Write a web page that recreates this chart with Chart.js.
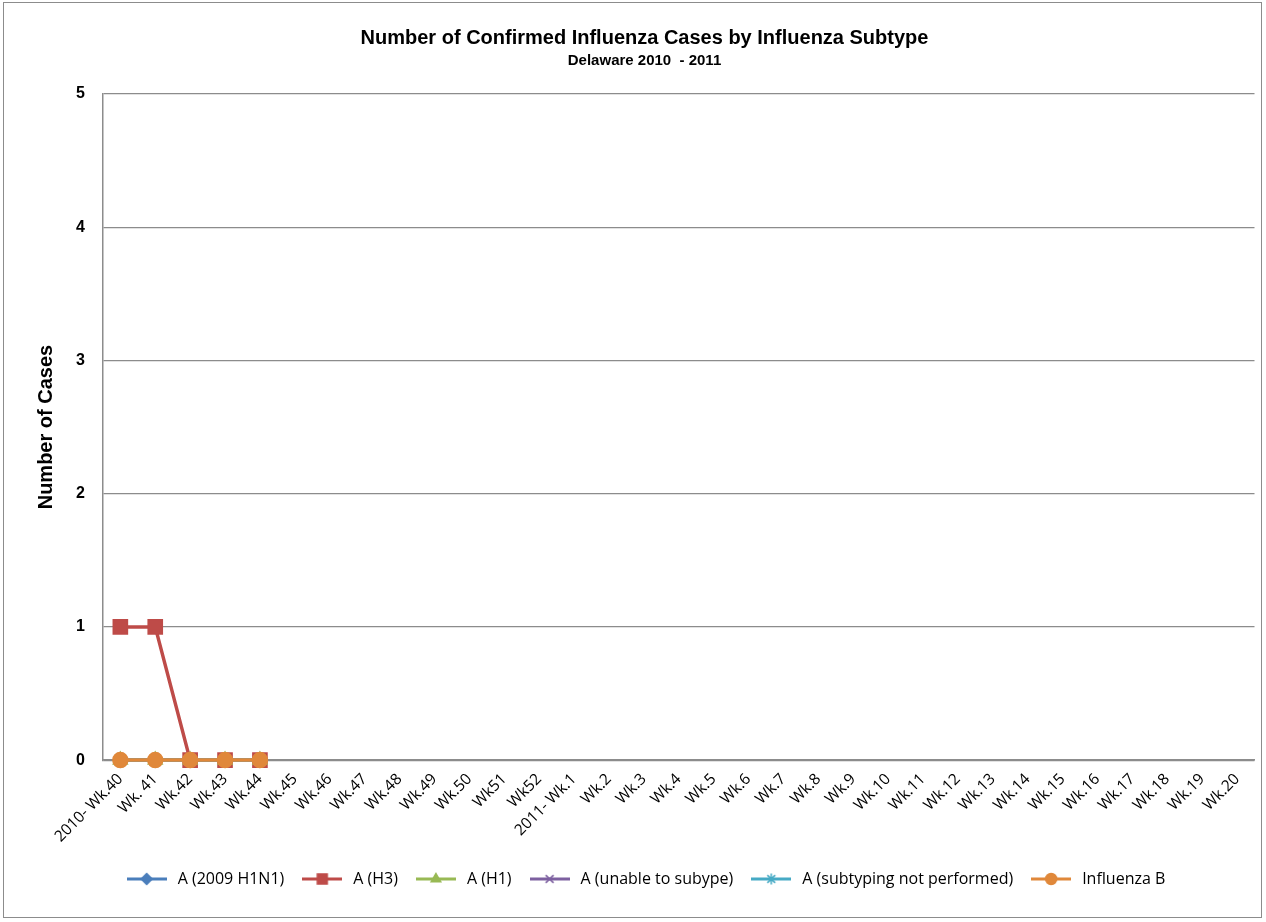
<!DOCTYPE html>
<html>
<head>
<meta charset="utf-8">
<script src="https://cdn.jsdelivr.net/npm/chart.js@4/dist/chart.umd.min.js"></script>
<style>
  html, body { margin: 0; padding: 0; background: #fff; }
  #frame { position: absolute; left: 3px; top: 2px; width: 1259px; height: 916px; border: 1px solid #8c8c8c; box-sizing: border-box; }
  #wrap { position: absolute; left: 0; top: 0; width: 1266px; height: 922px; }
</style>
</head>
<body>
<div id="frame"></div>
<div id="wrap"><canvas id="chart"></canvas></div>
<script>
// Semanas da temporada
const weeks = [
  '2010- Wk.40', 'Wk. 41', 'Wk.42', 'Wk.43', 'Wk.44', 'Wk.45', 'Wk.46', 'Wk.47', 'Wk.48', 'Wk.49',
  'Wk.50', 'Wk51', 'Wk52', '2011- Wk.1', 'Wk.2', 'Wk.3', 'Wk.4', 'Wk.5', 'Wk.6', 'Wk.7',
  'Wk.8', 'Wk.9', 'Wk.10', 'Wk.11', 'Wk.12', 'Wk.13', 'Wk.14', 'Wk.15', 'Wk.16', 'Wk.17',
  'Wk.18', 'Wk.19', 'Wk.20'
];

// Casos por subtipo (só as 5 primeiras semanas têm dados)
const h1n1_2009 = [0, 0, 0, 0, 0];
const h3 = [1, 1, 0, 0, 0];
const h1 = [0, 0, 0, 0, 0];
const unableToSubtype = [0, 0, 0, 0, 0];
const notPerformed = [0, 0, 0, 0, 0];
const influenzaB = [0, 0, 0, 0, 0];

const yTicks = [0, 1, 2, 3, 4, 5];

const series = [
  { label: 'A (2009 H1N1)', data: h1n1_2009, color: '#4a7ebb', style: 'rectRot', radius: 7 },
  { label: 'A (H3)', data: h3, color: '#be4b48', style: 'rect', radius: 10 },
  { label: 'A (H1)', data: h1, color: '#98b954', style: 'triangle', radius: 8 },
  { label: 'A (unable to subype)', data: unableToSubtype, color: '#7d60a0', style: 'crossRot', radius: 7 },
  { label: 'A (subtyping not performed)', data: notPerformed, color: '#46aac5', style: 'star', radius: 7 },
  { label: 'Influenza B', data: influenzaB, color: '#e0883a', style: 'circle', radius: 7.5 }
];

// Ícone da legenda: linha com o marcador no meio
function legendIcon(s) {
  const c = document.createElement('canvas');
  c.width = 40; c.height = 16;
  const ctx = c.getContext('2d');
  ctx.strokeStyle = s.color;
  ctx.lineWidth = 3;
  ctx.beginPath(); ctx.moveTo(0, 8); ctx.lineTo(40, 8); ctx.stroke();
  ctx.fillStyle = s.color;
  ctx.lineWidth = 1.5;
  const r = s.style === 'rect' ? 7 : 5.5;
  Chart.helpers.drawPoint(ctx, { pointStyle: s.style, radius: r, rotation: 0, borderWidth: 1.5 }, 20, 8);
  return c;
}

const datasets = series.map((s, i) => ({
  label: s.label,
  data: s.data,
  borderColor: s.color,
  backgroundColor: s.color,
  borderWidth: 3.5,
  pointStyle: s.style,
  pointRadius: s.radius,
  pointBorderWidth: 1.5,
  pointBackgroundColor: s.color,
  pointBorderColor: s.color,
  tension: 0,
  clip: 12,
  order: series.length - i
}));

const icons = series.map(legendIcon);

new Chart(document.getElementById('chart'), {
  type: 'line',
  data: { labels: weeks, datasets: datasets },
  options: {
    responsive: true,
    maintainAspectRatio: false,
    animation: false,
    layout: { padding: { left: 30, right: 7, top: 26, bottom: 25 } },
    plugins: {
      title: {
        display: true,
        text: 'Number of Confirmed Influenza Cases by Influenza Subtype',
        color: '#000',
        font: { family: 'Liberation Sans', size: 20, weight: 'bold' },
        padding: { top: 0, bottom: 2 }
      },
      subtitle: {
        display: true,
        text: 'Delaware 2010  - 2011',
        color: '#000',
        font: { family: 'Liberation Sans', size: 15, weight: 'bold' },
        padding: { bottom: 24 }
      },
      legend: {
        position: 'bottom',
        labels: {
          color: '#000',
          font: { family: 'Open Sans', size: 16 },
          usePointStyle: true,
          pointStyleWidth: 46,
          padding: 15,
          generateLabels: function(chart) {
            return series.map((s, i) => ({
              text: s.label,
              fillStyle: s.color,
              strokeStyle: s.color,
              pointStyle: icons[i],
              datasetIndex: i,
              hidden: false,
              lineWidth: 0
            }));
          }
        }
      },
      tooltip: { enabled: false }
    },
    scales: {
      x: {
        offset: true,
        grid: { display: false, drawTicks: false },
        border: { color: '#8c8c8c', width: 1.5 },
        ticks: {
          color: '#000',
          autoSkip: false,
          maxRotation: 45,
          minRotation: 45,
          padding: 10,
          font: { family: 'Open Sans', size: 15.5 }
        }
      },
      y: {
        min: 0,
        max: 5,
        afterBuildTicks: function(axis) { axis.ticks = yTicks.map(v => ({ value: v })); },
        grid: { color: '#8c8c8c', lineWidth: 1.2, drawTicks: false },
        border: { color: '#8c8c8c', width: 1.5 },
        title: {
          display: true,
          text: 'Number of Cases',
          color: '#000',
          font: { family: 'Liberation Sans', size: 20, weight: 'bold' },
          padding: { bottom: 0 }
        },
        ticks: {
          color: '#000',
          padding: 18,
          font: { family: 'Liberation Sans', size: 16, weight: 'bold' }
        }
      }
    }
  }
});
</script>
</body>
</html>
